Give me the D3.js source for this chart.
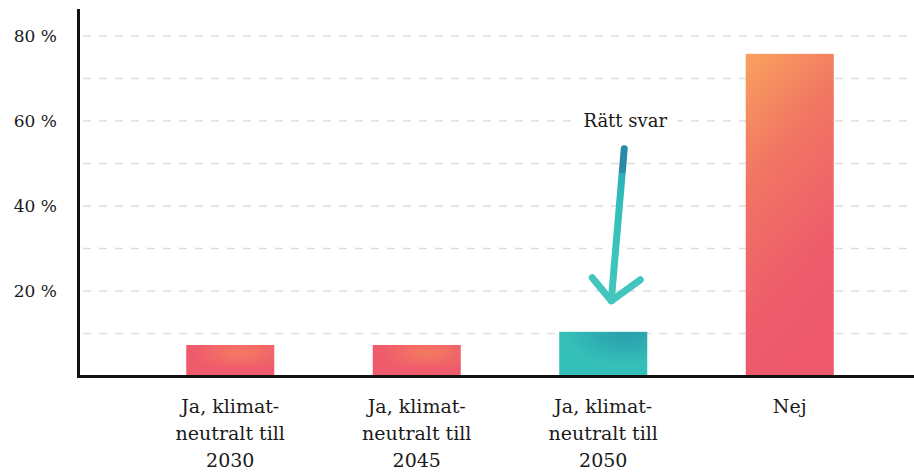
<!DOCTYPE html>
<html>
<head>
<meta charset="utf-8">
<script src="https://cdn.jsdelivr.net/npm/d3@7"></script>
<style>
  body { margin: 0; background: #fff; }
  text { font-family: Georgia, "DejaVu Serif", serif; fill: #1a1a1a; }
</style>
</head>
<body>
<svg id="chart" width="914" height="475"></svg>
<script>
// data
var categories = ["2030", "2045", "2050", "Nej"];
var labels = [
  ["Ja, klimat-", "neutralt till", "2030"],
  ["Ja, klimat-", "neutralt till", "2045"],
  ["Ja, klimat-", "neutralt till", "2050"],
  ["Nej"]
];
var values = [7.3, 7.3, 10.4, 75.8];
var correct = "2050";
var yTicks = [20, 40, 60, 80];
var gridTicks = [10, 20, 30, 40, 50, 60, 70, 80];

var svg = d3.select("#chart");
var defs = svg.append("defs");

var x = d3.scaleBand()
    .domain(categories)
    .range([137, 883])
    .paddingInner(0.528)
    .paddingOuter(0.264);

var y = d3.scaleLinear()
    .domain([0, 80])
    .range([376, 36]);

// gradients
var rg = defs.append("radialGradient").attr("id", "warm")
    .attr("cx", 0.62).attr("cy", 0.25).attr("r", 0.55);
rg.append("stop").attr("offset", "0%").attr("stop-color", "#f47b62");
rg.append("stop").attr("offset", "100%").attr("stop-color", "#ef5b6b");

var lg = defs.append("linearGradient").attr("id", "tall")
    .attr("x1", 0.1).attr("y1", 0).attr("x2", 0.4).attr("y2", 1);
lg.append("stop").attr("offset", "0%").attr("stop-color", "#f89e5e");
lg.append("stop").attr("offset", "35%").attr("stop-color", "#f17563");
lg.append("stop").attr("offset", "75%").attr("stop-color", "#ee5d6b");
lg.append("stop").attr("offset", "100%").attr("stop-color", "#ee586d");

var tg = defs.append("radialGradient").attr("id", "teal")
    .attr("cx", 0.75).attr("cy", 0.05).attr("r", 0.7);
tg.append("stop").attr("offset", "0%").attr("stop-color", "#2a9dab");
tg.append("stop").attr("offset", "100%").attr("stop-color", "#34c0b9");

var ag = defs.append("linearGradient").attr("id", "arrowGrad")
    .attr("gradientUnits", "userSpaceOnUse")
    .attr("x1", 0).attr("y1", 145).attr("x2", 0).attr("y2", 305);
ag.append("stop").attr("offset", "0%").attr("stop-color", "#2a8ca4");
ag.append("stop").attr("offset", "17%").attr("stop-color", "#2a8ca4");
ag.append("stop").attr("offset", "18%").attr("stop-color", "#2ab2b8");
ag.append("stop").attr("offset", "40%").attr("stop-color", "#33c0b9");
ag.append("stop").attr("offset", "100%").attr("stop-color", "#45c6be");

// dashed grid
svg.append("g").selectAll("line")
    .data(gridTicks)
    .join("line")
    .attr("x1", 83).attr("x2", 914)
    .attr("y1", function(d) { return y(d); })
    .attr("y2", function(d) { return y(d); })
    .attr("stroke", "#dedede")
    .attr("stroke-width", 1.5)
    .attr("stroke-dasharray", "8,8");

// y labels
svg.append("g").selectAll("text")
    .data(yTicks)
    .join("text")
    .attr("x", 57)
    .attr("y", function(d) { return y(d); })
    .attr("dy", "0.35em")
    .attr("text-anchor", "end")
    .style("font-size", "17px")
    .text(function(d) { return d + " %"; });

// bars
svg.append("g").selectAll("rect")
    .data(values)
    .join("rect")
    .attr("x", function(d, i) { return x(categories[i]); })
    .attr("width", x.bandwidth())
    .attr("y", function(d) { return y(d); })
    .attr("height", function(d) { return y(0) - y(d); })
    .attr("fill", function(d, i) {
        if (categories[i] === correct) return "url(#teal)";
        if (d > 40) return "url(#tall)";
        return "url(#warm)";
    });

// axes lines
svg.append("line")
    .attr("x1", 78.5).attr("x2", 78.5)
    .attr("y1", 9).attr("y2", 377.5)
    .attr("stroke", "#111").attr("stroke-width", 3);
svg.append("line")
    .attr("x1", 77).attr("x2", 914)
    .attr("y1", 376.5).attr("y2", 376.5)
    .attr("stroke", "#111").attr("stroke-width", 3);

// x labels
var lab = svg.append("g").selectAll("text")
    .data(labels)
    .join("text")
    .attr("text-anchor", "middle")
    .style("font-size", "19px");
lab.selectAll("tspan")
    .data(function(d, i) { return d.map(function(s) { return { s: s, i: i }; }); })
    .join("tspan")
    .attr("x", function(d) { return x(categories[d.i]) + x.bandwidth() / 2; })
    .attr("y", function(d, j) { return 413 + j * 27; })
    .text(function(d) { return d.s; });

// annotation for the correct answer
var cx = x(correct) + x.bandwidth() / 2;
var barTop = y(values[categories.indexOf(correct)]);

var ann = svg.append("g");
ann.append("rect")
    .attr("x", cx - 30).attr("y", barTop - 220)
    .attr("width", 104).attr("height", 22)
    .attr("fill", "#fff");
ann.append("text")
    .attr("x", cx + 22).attr("y", barTop - 205)
    .attr("text-anchor", "middle")
    .style("font-size", "18px")
    .text("Rätt svar");

var arrow = d3.path();
arrow.moveTo(cx + 21, barTop - 183);
arrow.lineTo(cx + 8, barTop - 31);
ann.append("path")
    .attr("d", arrow.toString())
    .attr("fill", "none")
    .attr("stroke", "url(#arrowGrad)")
    .attr("stroke-width", 7)
    .attr("stroke-linecap", "round");

var head = d3.path();
head.moveTo(cx - 11, barTop - 54);
head.lineTo(cx + 8, barTop - 31);
head.lineTo(cx + 37, barTop - 52);
ann.append("path")
    .attr("d", head.toString())
    .attr("fill", "none")
    .attr("stroke", "#42c5bd")
    .attr("stroke-width", 7)
    .attr("stroke-linecap", "round")
    .attr("stroke-linejoin", "round");
</script>
</body>
</html>
